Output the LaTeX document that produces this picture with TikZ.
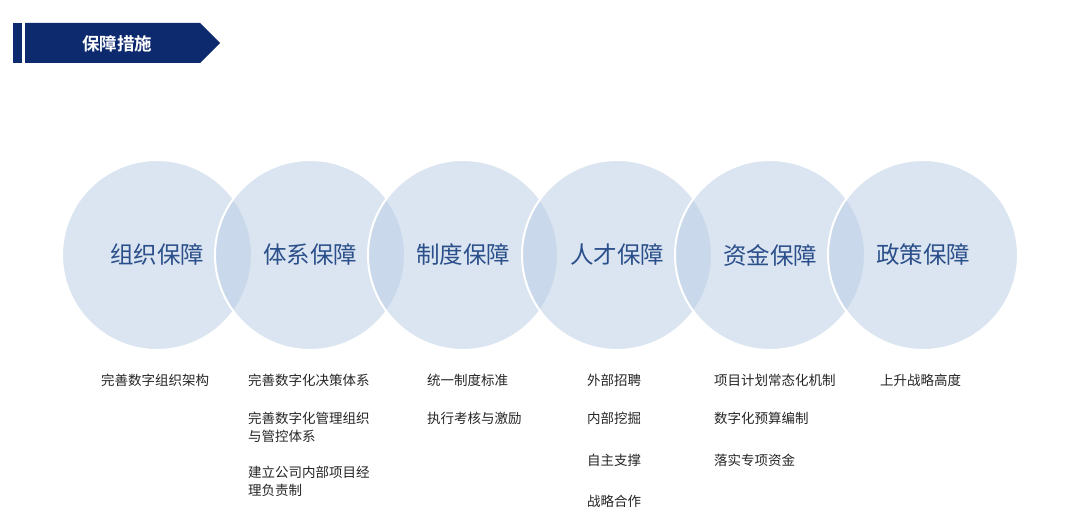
\documentclass[tikz,border=0pt]{standalone}
\usepackage{fontspec}
\setmainfont{Noto Sans CJK SC}
\newfontfamily\cjkb{Noto Sans CJK SC Bold}
\definecolor{navy}{HTML}{0E2A6E}
\definecolor{circfill}{HTML}{B8CCE4}
\definecolor{circtext}{HTML}{2B4F8A}
\definecolor{itemtext}{HTML}{262626}
\tikzset{
  circ/.style={circle, minimum size=190pt, inner sep=0pt, fill=circfill, fill opacity=0.5, draw=white, draw opacity=1, line width=2pt, text opacity=1},
  ctext/.style={font=\fontsize{23.5}{27}\selectfont, text=circtext},
  item/.style={anchor=north west, align=left, inner sep=0pt, font=\fontsize{13.5}{18}\selectfont, text=itemtext}
}
\begin{document}
\begin{tikzpicture}[x=1pt,y=-1pt]
\useasboundingbox (0,0) rectangle (1080,532);
\fill[white] (0,0) rectangle (1080,532);
% header
\fill[navy] (13,23) rectangle (22,63);
\fill[navy] (25,23) -- (200,23) -- (220,43) -- (200,63) -- (25,63) -- cycle;
\node[font=\cjkb\fontsize{17.5}{20}\selectfont, text=white] (hdr) at (117,44) {保障措施};
% circles
\foreach \i/\x in {1/157, 2/310, 3/463, 4/617, 5/770, 6/923}{
  \node[circ] (c\i) at (\x,255) {};
}
\foreach \i/\t in {1/组织保障, 2/体系保障, 3/制度保障, 4/人才保障, 5/资金保障, 6/政策保障}{
  \node[ctext] (t\i) at (c\i.center) {\t};
}
% items
\node[item] (a1) at (101,374) {完善数字组织架构};
\node[item] (b1) at (248,374) {完善数字化决策体系};
\node[item] (b2) at (248,412) {完善数字化管理组织\\与管控体系};
\node[item] (b3) at (248,466) {建立公司内部项目经\\理负责制};
\node[item] (d1) at (427,374) {统一制度标准};
\node[item] (d2) at (427,412) {执行考核与激励};
\node[item] (e1) at (587,374) {外部招聘};
\node[item] (e2) at (587,412) {内部挖掘};
\node[item] (e3) at (587,454) {自主支撑};
\node[item] (e4) at (587,495) {战略合作};
\node[item] (f1) at (714,374) {项目计划常态化机制};
\node[item] (f2) at (714,412) {数字化预算编制};
\node[item] (f3) at (714,454) {落实专项资金};
\node[item] (g1) at (880,374) {上升战略高度};
\end{tikzpicture}
\end{document}
